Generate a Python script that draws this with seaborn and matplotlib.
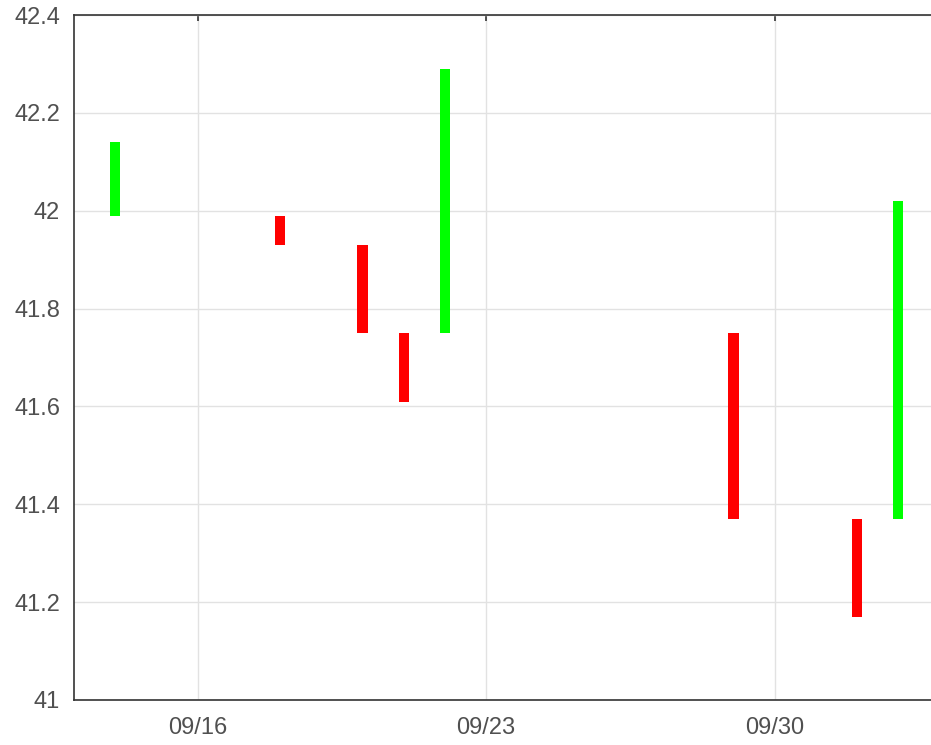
import numpy as np
import pandas as pd
import seaborn as sns
import matplotlib.pyplot as plt
import matplotlib.dates as mdates
import matplotlib.ticker as mticker

# daily open / close values
dates = ["2019-09-14", "2019-09-18", "2019-09-20", "2019-09-21",
         "2019-09-22", "2019-09-29", "2019-10-02", "2019-10-03"]
open_vals = [41.99, 41.99, 41.93, 41.75, 41.75, 41.75, 41.37, 41.37]
close_vals = [42.14, 41.93, 41.75, 41.61, 42.29, 41.37, 41.17, 42.02]

df = pd.DataFrame({"date": pd.to_datetime(dates), "open": open_vals, "close": close_vals})
df["low"] = df[["open", "close"]].min(axis=1)
df["span"] = (df["close"] - df["open"]).abs()
df["color"] = np.where(df["close"] >= df["open"], "#00ff00", "#ff0000")

sns.set_theme(style="white")
plt.rcParams["font.family"] = ["Liberation Sans", "DejaVu Sans"]

fig = plt.figure(figsize=(9.31, 7.45), dpi=100)
ax = fig.add_axes([74 / 931, 45 / 745, 865.4 / 931, 685 / 745])

ax.bar(df["date"], df["span"], bottom=df["low"], width=0.25,
       color=df["color"], linewidth=0, zorder=3)

ax.set_xlim(pd.Timestamp("2019-09-13"), pd.Timestamp("2019-10-04"))
ax.set_ylim(41, 42.4)

ax.xaxis.set_major_locator(mdates.DayLocator(bymonthday=[16, 23, 30]))
ax.xaxis.set_major_formatter(mdates.DateFormatter("%m/%d"))
ax.yaxis.set_major_locator(mticker.MultipleLocator(0.2))
ax.yaxis.set_major_formatter(mticker.FuncFormatter(lambda v, p: f"{v:g}"))

ax.grid(True, color="#e2e2e2", linewidth=1, zorder=0)
for side in ["left", "bottom", "top"]:
    ax.spines[side].set_color("#333333")
    ax.spines[side].set_linewidth(1.2)
ax.spines["right"].set_visible(False)

ax.tick_params(axis="both", direction="in", length=4, width=1.2, color="#333333",
               labelsize=17, labelcolor="#505050")
ax.tick_params(axis="x", pad=12)
ax.tick_params(axis="y", pad=10)
ax.tick_params(top=True)

fig.savefig("out.png", dpi=100)
